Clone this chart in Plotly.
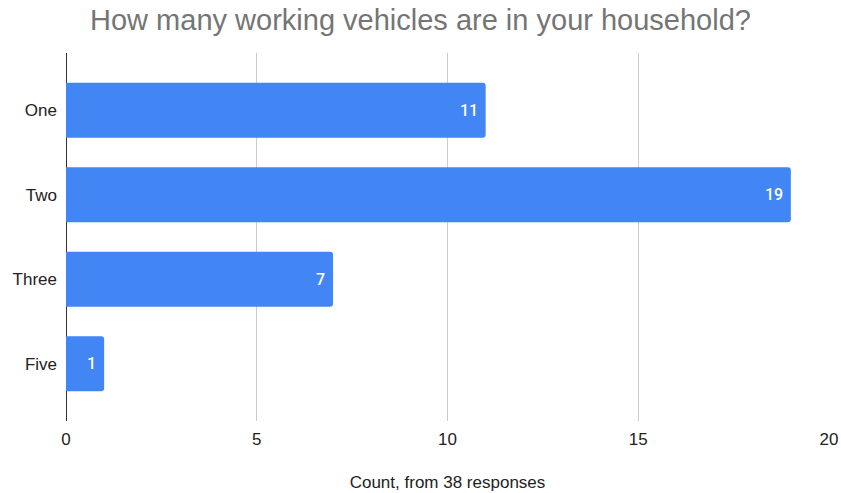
import plotly.graph_objects as go

# Survey answers and their counts
categories = ["One", "Two", "Three", "Five"]
counts = [11, 19, 7, 1]
x_ticks = [0, 5, 10, 15, 20]

fig = go.Figure(
    go.Bar(
        x=counts,
        y=categories,
        orientation="h",
        marker=dict(color="#4285F4", cornerradius=3, line=dict(width=0)),
        width=0.65,
        hoverinfo="x+y",
    )
)

# Value labels sitting inside the end of each bar
for cat, val in zip(categories, counts):
    fig.add_annotation(
        x=val,
        y=cat,
        xref="x",
        yref="y",
        text=str(val),
        showarrow=False,
        xanchor="right",
        yanchor="middle",
        xshift=-6,
        font=dict(family="Roboto, sans-serif", size=16, color="white", weight=500),
    )

fig.update_layout(
    width=841,
    height=493,
    margin=dict(l=66, r=12, t=53, b=72),
    paper_bgcolor="white",
    plot_bgcolor="white",
    showlegend=False,
    title=dict(
        text="How many working vehicles are in your household?",
        x=0.5,
        xanchor="center",
        xref="container",
        y=1 - 20 / 493,
        yref="container",
        yanchor="middle",
        font=dict(family="Liberation Sans, Arial, sans-serif", size=29, color="#757575"),
    ),
    font=dict(family="Liberation Sans, Arial, sans-serif", size=17, color="#222222"),
)

fig.update_xaxes(
    range=[0, 20],
    tickvals=x_ticks,
    showgrid=True,
    gridcolor="#cccccc",
    gridwidth=1,
    zeroline=True,
    zerolinecolor="#333333",
    zerolinewidth=1,
    showline=False,
    ticks="",
    automargin=False,
    ticklabelstandoff=6,
    tickfont=dict(size=17, color="#222222"),
    title=dict(text="Count, from 38 responses", font=dict(size=17, color="#222222"), standoff=28),
)

fig.update_yaxes(
    categoryorder="array",
    categoryarray=categories,
    autorange=False,
    range=[3.678, -0.678],
    showgrid=False,
    zeroline=False,
    showline=False,
    ticks="",
    automargin=False,
    ticklabelstandoff=8,
    tickfont=dict(size=17, color="#222222"),
)

fig.write_html("out.html")
